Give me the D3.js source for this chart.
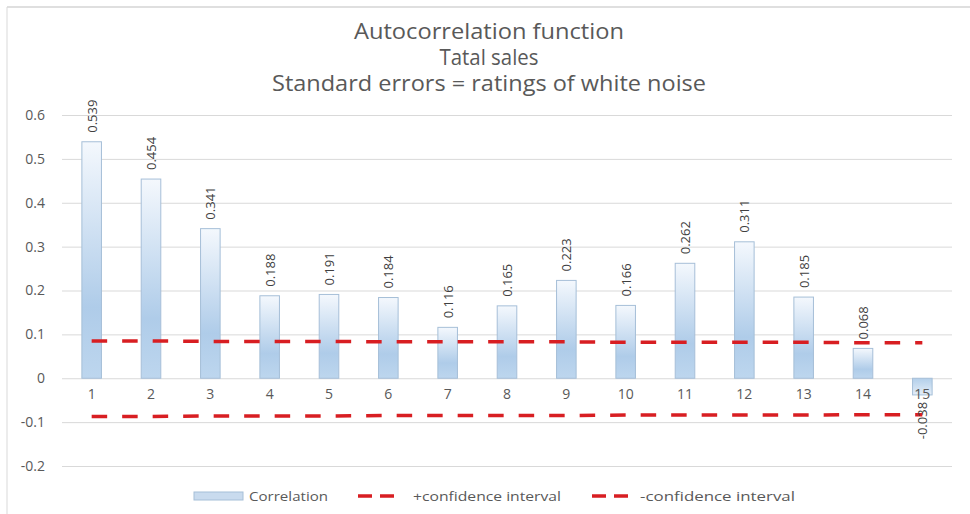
<!DOCTYPE html>
<html>
<head>
<meta charset="utf-8">
<script src="https://cdn.jsdelivr.net/npm/d3@7/dist/d3.min.js"></script>
<style>
  html, body { margin: 0; padding: 0; background: #fff; }
  svg { display: block; font-family: "Open Sans", Lato, sans-serif; }
</style>
</head>
<body>
<svg id="chart" width="970" height="514"></svg>
<script>
// ---- data ----
const titleLines = ["Autocorrelation function", "Tatal sales", "Standard errors = ratings of white noise"];
const lags = [1, 2, 3, 4, 5, 6, 7, 8, 9, 10, 11, 12, 13, 14, 15];
const correlation = [0.539, 0.454, 0.341, 0.188, 0.191, 0.184, 0.116, 0.165, 0.223, 0.166, 0.262, 0.311, 0.185, 0.068, -0.038];
const upperCI = [0.085, 0.085, 0.084, 0.084, 0.084, 0.083, 0.083, 0.083, 0.083, 0.082, 0.082, 0.082, 0.082, 0.081, 0.081];
const lowerCI = [-0.087, -0.087, -0.086, -0.086, -0.086, -0.085, -0.085, -0.085, -0.085, -0.084, -0.084, -0.084, -0.084, -0.083, -0.083];
const yTicks = [-0.2, -0.1, 0, 0.1, 0.2, 0.3, 0.4, 0.5, 0.6];
const legendLabels = ["Correlation", "+confidence interval", "-confidence interval"];

// ---- layout ----
const svg = d3.select("#chart");
const plot = { left: 62, right: 952, top: 115, bottom: 466 };
const x = d3.scaleBand().domain(lags).range([plot.left, plot.right]).paddingInner(0.67).paddingOuter(0.335);
const y = d3.scaleLinear().domain([-0.2, 0.6]).range([plot.bottom, plot.top]);
const red = "#d81e22";
const grey = "#595959";
const hy = s => s.replace("\u2212", "-");

// chart border (top & left visible)
svg.append("line").attr("x1", 7).attr("x2", 970).attr("y1", 7).attr("y2", 7).attr("stroke", "#d4d4d4").attr("stroke-width", 1.5);
svg.append("line").attr("x1", 7).attr("x2", 7).attr("y1", 7).attr("y2", 514).attr("stroke", "#d9d9d9").attr("stroke-width", 1);

// gradient
const defs = svg.append("defs");
const grad = defs.append("linearGradient").attr("id", "barGrad").attr("x1", 0).attr("x2", 0).attr("y1", 0).attr("y2", 1);
grad.append("stop").attr("offset", "0%").attr("stop-color", "#f4f8fd");
grad.append("stop").attr("offset", "70%").attr("stop-color", "#afcce9");
grad.append("stop").attr("offset", "100%").attr("stop-color", "#bdd6ee");
const gradN = defs.append("linearGradient").attr("id", "barGradNeg").attr("x1", 0).attr("x2", 0).attr("y1", 0).attr("y2", 1);
gradN.append("stop").attr("offset", "0%").attr("stop-color", "#b3cfea");
gradN.append("stop").attr("offset", "100%").attr("stop-color", "#e4eef8");

// title
const titleWidths = [270, 99, 434];
svg.append("g").selectAll("text").data(titleLines).join("text")
  .attr("x", 489).attr("y", (d, i) => 39 + i * 26)
  .attr("text-anchor", "middle").attr("font-size", 21).attr("fill", grey)
  .attr("textLength", (d, i) => titleWidths[i]).attr("lengthAdjust", "spacingAndGlyphs")
  .text(d => d);

// gridlines + y axis labels
const yAxis = d3.axisLeft(y).tickValues(yTicks).tickSize(-(plot.right - plot.left)).tickPadding(17)
  .tickFormat(d => d === 0 ? "0" : hy(d3.format(".1f")(d)));
const gy = svg.append("g").attr("transform", `translate(${plot.left},0)`).call(yAxis);
gy.select(".domain").remove();
gy.selectAll(".tick line").attr("stroke", "#d9d9d9").attr("stroke-width", 1);
gy.selectAll(".tick text").attr("font-size", 14).attr("fill", grey).attr("font-family", "'Open Sans', sans-serif");

// bars
svg.append("g").selectAll("rect").data(lags).join("rect")
  .attr("x", (d) => x(d))
  .attr("width", x.bandwidth())
  .attr("y", (d, i) => y(Math.max(0, correlation[i])))
  .attr("height", (d, i) => Math.abs(y(correlation[i]) - y(0)))
  .attr("fill", (d, i) => correlation[i] >= 0 ? "url(#barGrad)" : "url(#barGradNeg)")
  .attr("stroke", "#a6bfd8").attr("stroke-width", 1);

// category labels
const xAxis = d3.axisBottom(x).tickSize(0).tickPadding(11);
const gx = svg.append("g").attr("transform", `translate(0,${y(0)})`).call(xAxis);
gx.select(".domain").remove();
gx.selectAll(".tick text").attr("font-size", 14).attr("fill", grey).attr("font-family", "'Open Sans', sans-serif");

// confidence interval lines
const line = d3.line().x(d => x(d[0]) + x.bandwidth() / 2).y(d => y(d[1]));
[upperCI, lowerCI].forEach(arr => {
  svg.append("path").datum(lags.map((l, i) => [l, arr[i]]))
    .attr("d", line).attr("fill", "none").attr("stroke", red)
    .attr("stroke-width", 3.5).attr("stroke-dasharray", "15.5,15");
});

// data labels
svg.append("g").selectAll("text").data(lags).join("text")
  .attr("transform", (d, i) => {
    const cx = x(d) + x.bandwidth() / 2;
    const yy = correlation[i] >= 0 ? y(correlation[i]) - 9 : y(correlation[i]) + 7;
    return `translate(${cx},${yy}) rotate(-90)`;
  })
  .attr("text-anchor", (d, i) => correlation[i] >= 0 ? "start" : "end")
  .attr("dominant-baseline", "central")
  .attr("font-size", 13).attr("fill", "#404040")
  .text((d, i) => hy(d3.format(".3f")(correlation[i])));

// legend
const legendWidths = [79, 148, 155];
const lg = svg.append("g");
lg.append("rect").attr("x", 194).attr("y", 492).attr("width", 49).attr("height", 8)
  .attr("fill", "#c9dbee").attr("stroke", "#a6bfd8").attr("stroke-width", 1);
lg.append("text").attr("x", 249).attr("y", 496).attr("dominant-baseline", "central")
  .attr("font-size", 13).attr("fill", grey)
  .attr("textLength", legendWidths[0]).attr("lengthAdjust", "spacingAndGlyphs").text(legendLabels[0]);
[[358, 413], [592, 640]].forEach((p, k) => {
  lg.append("line").attr("x1", p[0]).attr("x2", p[0] + 36).attr("y1", 496).attr("y2", 496)
    .attr("stroke", red).attr("stroke-width", 3.5).attr("stroke-dasharray", "14,8");
  lg.append("text").attr("x", p[1]).attr("y", 496).attr("dominant-baseline", "central")
    .attr("font-size", 13).attr("fill", grey)
    .attr("textLength", legendWidths[k + 1]).attr("lengthAdjust", "spacingAndGlyphs")
    .text(legendLabels[k + 1]);
});
</script>
</body>
</html>
